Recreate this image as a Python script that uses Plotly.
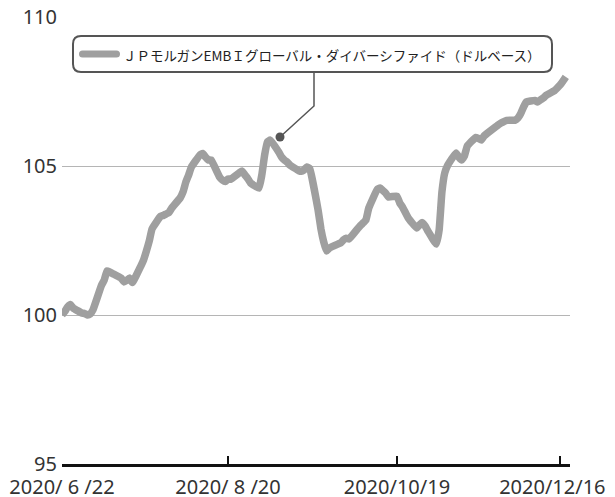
import plotly.graph_objects as go
import pandas as pd

W, H = 615, 497
ML, MR, MT, MB = 62, 45, 17, 33

series_name = "ＪＰモルガンEMBＩグローバル・ダイバーシファイド（ドルベース）"
start_date = "2020-06-22"
end_date = "2020-12-18"

# weekly rows of business-day index values (Mon..Fri)
values = [
    100.00, 100.12, 100.27, 100.35, 100.23,
    100.07, 100.05, 100.00, 100.03, 100.17,
    100.99, 101.17, 101.48, 101.44, 101.39,
    101.24, 101.11, 101.16, 101.24, 101.09,
    101.64, 101.85, 102.15, 102.48, 102.89,
    103.31, 103.34, 103.39, 103.44, 103.59,
    103.93, 104.13, 104.46, 104.70, 104.97,
    105.37, 105.42, 105.30, 105.20, 105.20,
    104.63, 104.53, 104.48, 104.56, 104.56,
    104.77, 104.83, 104.70, 104.58, 104.43,
    104.26, 104.70, 105.37, 105.81, 105.87,
    105.47, 105.30, 105.20, 105.13, 105.03,
    104.85, 104.82, 104.87, 104.97, 104.92,
    103.52, 102.89, 102.45, 102.15, 102.25,
    102.38, 102.42, 102.52, 102.58, 102.55,
    102.89, 103.00, 103.09, 103.19, 103.59,
    104.21, 104.26, 104.18, 104.09, 103.96,
    103.99, 103.76, 103.62, 103.44, 103.26,
    102.92, 103.02, 103.10, 102.99, 102.82,
    102.38, 102.85, 104.13, 104.77, 105.02,
    105.44, 105.30, 105.20, 105.34, 105.67,
    105.96, 105.92, 105.87, 106.01, 106.09,
    106.31, 106.38, 106.44, 106.49, 106.53,
    106.54, 106.61, 106.76, 106.98, 107.15,
    107.20, 107.15, 107.22, 107.28, 107.37,
    107.53, 107.62, 107.72, 107.85, 107.99,
]
dates = pd.bdate_range(start_date, end_date)

tick_dates = ["2020-06-22", "2020-08-20", "2020-10-19", "2020-12-16"]
tick_labels = ["2020/ 6 /22", "2020/ 8 /20", "2020/10/19",
               "2020/12/16\u00a0\u00a0\u00a0"]
y_ticks = [95, 100, 105, 110]
y_range = [95, 110]
x_range = ["2020-06-22", "2020-12-19 12:00"]

LINE_COLOR = "#9f9f9f"
DARK = "#555555"

PW = W - ML - MR
PH = H - MT - MB


def px(x):
    return (x - ML) / PW


def py(y):
    return (H - MB - y) / PH


def rrect(x0, y0, x1, y1, r):
    pts = [
        ("M", [(x0 + r, y0)]), ("L", [(x1 - r, y0)]),
        ("Q", [(x1, y0), (x1, y0 + r)]), ("L", [(x1, y1 - r)]),
        ("Q", [(x1, y1), (x1 - r, y1)]), ("L", [(x0 + r, y1)]),
        ("Q", [(x0, y1), (x0, y1 - r)]), ("L", [(x0, y0 + r)]),
        ("Q", [(x0, y0), (x0 + r, y0)]),
    ]
    s = ""
    for cmd, ps in pts:
        s += cmd + " " + " ".join(f"{px(a):.5f},{py(b):.5f}" for a, b in ps) + " "
    return s + "Z"


fig = go.Figure()
fig.add_trace(go.Scatter(
    x=dates, y=values, mode="lines",
    line=dict(color=LINE_COLOR, width=7.5, shape="spline", smoothing=0.3),
    hoverinfo="skip", showlegend=False,
))

shapes = [
    dict(type="path", xref="paper", yref="paper",
         path=rrect(73, 36, 552, 72, 8),
         line=dict(color=DARK, width=2), fillcolor="white", layer="above"),
    dict(type="path", xref="paper", yref="paper",
         path=rrect(79, 50.5, 120, 57.5, 3.5),
         line=dict(width=0), fillcolor=LINE_COLOR, layer="above"),
    dict(type="path", xref="paper", yref="paper",
         path=f"M {px(314)},{py(72)} L {px(314)},{py(106)} L {px(280)},{py(137)}",
         line=dict(color=DARK, width=1.5), layer="above"),
    dict(type="circle", xref="paper", yref="paper",
         x0=px(275.5), x1=px(284.5), y0=py(141.5), y1=py(132.5),
         line=dict(width=0), fillcolor=DARK, layer="above"),
]

fig.update_layout(
    width=W, height=H,
    margin=dict(l=ML, r=MR, t=MT, b=MB, pad=0, autoexpand=False),
    paper_bgcolor="white", plot_bgcolor="white",
    showlegend=False,
    shapes=shapes,
    annotations=[dict(
        x=px(332), y=py(54.5), xref="paper", yref="paper",
        text=series_name, showarrow=False,
        xanchor="center", yanchor="middle",
        font=dict(family="Noto Sans CJK JP", size=13.5, color="#222222"),
    )],
    xaxis=dict(
        type="date", range=x_range, automargin=False,
        tickvals=tick_dates, ticktext=tick_labels,
        ticks="inside", ticklen=8, tickwidth=2, tickcolor="#111111",
        showline=True, linecolor="#111111", linewidth=2.5,
        showgrid=False, zeroline=False,
        tickfont=dict(family="Noto Sans", size=20, color="#333333"),
        ticklabelstandoff=3, ticklabeloverflow="allow",
    ),
    yaxis=dict(
        range=y_range, tickvals=y_ticks, automargin=False,
        showgrid=True, gridcolor="#b5b5b5", gridwidth=1,
        showline=False, zeroline=False, ticks="",
        tickfont=dict(family="Noto Sans", size=20, color="#333333"),
        ticklabelstandoff=4, ticklabeloverflow="allow",
    ),
)

fig.write_html(
    "out.html",
    config={"displayModeBar": False},
    post_script="document.body.style.margin='0';document.body.style.padding='0';",
)
